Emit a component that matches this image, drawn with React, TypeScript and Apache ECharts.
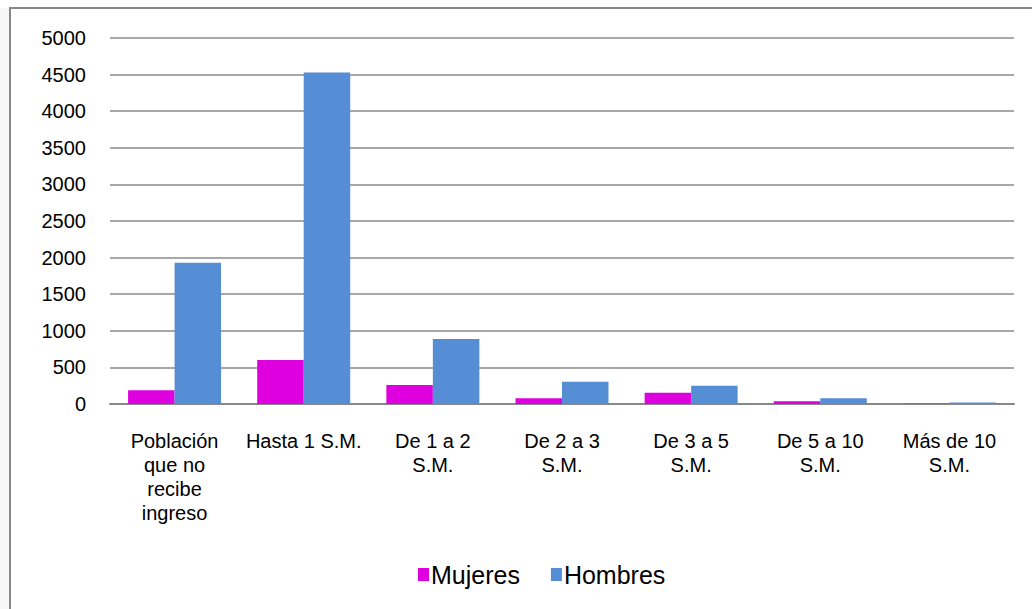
import React, { useEffect, useRef } from "react";
import * as echarts from "echarts";

const categories = [
  "Población\nque no\nrecibe\ningreso",
  "Hasta 1 S.M.",
  "De 1 a 2\nS.M.",
  "De 2 a 3\nS.M.",
  "De 3 a 5\nS.M.",
  "De 5 a 10\nS.M.",
  "Más de 10\nS.M.",
];
const mujeres = [187, 601, 260, 78, 155, 37, 4];
const hombres = [1930, 4530, 888, 305, 250, 78, 22];
const seriesNames = ["Mujeres", "Hombres"];

export default function App() {
  const ref = useRef<HTMLDivElement>(null);
  useEffect(() => {
    document.body.style.margin = "0";
    const chart = echarts.init(ref.current!, null, { renderer: "svg" });
    const font = "Liberation Sans, Arial, sans-serif";
    chart.setOption({
      animation: false,
      backgroundColor: "#ffffff",
      graphic: [
        { type: "rect", shape: { x: 0, y: 8, width: 9, height: 601 }, style: { fill: "#f7f7f7" }, silent: true },
        { type: "line", shape: { x1: 9, y1: 8, x2: 1032, y2: 8 }, style: { stroke: "#888888", lineWidth: 2 }, silent: true },
        { type: "line", shape: { x1: 10, y1: 8, x2: 10, y2: 609 }, style: { stroke: "#888888", lineWidth: 2 }, silent: true },
      ],
      grid: { left: 110, right: 18, top: 38, bottom: 205, containLabel: false },
      legend: {
        data: seriesNames,
        bottom: 17,
        left: 413,
        icon: "rect",
        itemWidth: 11,
        itemHeight: 13,
        itemGap: 31,
        textStyle: { fontFamily: font, fontSize: 25, color: "#000000", padding: [0, 0, 0, -3] },
      },
      xAxis: {
        type: "category",
        data: categories,
        axisLine: { show: true, lineStyle: { color: "#888888", width: 2 } },
        axisTick: { show: false },
        axisLabel: {
          interval: 0,
          margin: 25,
          fontFamily: font,
          fontSize: 20,
          lineHeight: 24,
          color: "#000000",
          align: "center",
        },
      },
      yAxis: {
        type: "value",
        min: 0,
        max: 5000,
        interval: 500,
        axisLine: { show: false },
        axisTick: { show: false },
        splitLine: { lineStyle: { color: "#8a8a8a", width: 1.5 } },
        axisLabel: {
          margin: 24,
          fontFamily: font,
          fontSize: 20,
          color: "#000000",
          formatter: (v: number) => String(v),
        },
      },
      series: [
        {
          name: seriesNames[0],
          type: "bar",
          data: mujeres,
          itemStyle: { color: "#DE00DE" },
          barGap: "0%",
          barCategoryGap: "28%",
        },
        {
          name: seriesNames[1],
          type: "bar",
          data: hombres,
          itemStyle: { color: "#558ED5" },
          barGap: "0%",
          barCategoryGap: "28%",
        },
      ],
    });
    return () => chart.dispose();
  }, []);
  return <div ref={ref} style={{ width: 1032, height: 609 }} />;
}
